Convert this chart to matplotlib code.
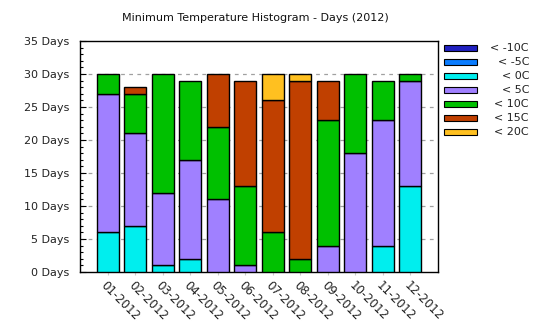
import numpy as np
import matplotlib.pyplot as plt
from matplotlib.patches import Rectangle

months = ['01-2012', '02-2012', '03-2012', '04-2012', '05-2012', '06-2012',
          '07-2012', '08-2012', '09-2012', '10-2012', '11-2012', '12-2012']
bands = ['< -10C', '< -5C', '< 0C', '< 5C', '< 10C', '< 15C', '< 20C']
colors = ['#2020c0', '#0a7cff', '#00eeee', '#a080ff', '#00c000', '#c04000', '#ffc020']

# days per month in each temperature band
below_m10 = [0, 0, 0, 0, 0, 0, 0, 0, 0, 0, 0, 0]
below_m5 = [0, 0, 0, 0, 0, 0, 0, 0, 0, 0, 0, 0]
below_0 = [6, 7, 1, 2, 0, 0, 0, 0, 0, 0, 4, 13]
below_5 = [21, 14, 11, 15, 11, 1, 0, 0, 4, 18, 19, 16]
below_10 = [3, 6, 18, 12, 11, 12, 6, 2, 19, 12, 6, 1]
below_15 = [0, 1, 0, 0, 8, 16, 20, 27, 6, 0, 0, 0]
below_20 = [0, 0, 0, 0, 0, 0, 4, 1, 0, 0, 0, 0]
series = [below_m10, below_m5, below_0, below_5, below_10, below_15, below_20]

fig = plt.figure(figsize=(5.4, 3.3), dpi=100)
ax = fig.add_axes([80 / 540, 58 / 330, 358 / 540, 231 / 330])

x = np.arange(len(months))
bottom = np.zeros(len(months))
for vals, col in zip(series, colors):
    vals = np.array(vals)
    mask = vals > 0
    ax.bar(x[mask], vals[mask], bottom=bottom[mask], width=0.8, color=col,
           edgecolor='black', linewidth=1.0, zorder=3)
    bottom += vals

ax.set_xlim(-1, 12)
ax.set_ylim(0, 35)
ax.set_yticks(range(0, 36, 5))
ax.set_yticklabels([f'{v} Days' for v in range(0, 36, 5)], fontsize=8, color='#222222')
ax.set_yticks(range(0, 36), minor=True)
ax.tick_params(axis='y', which='major', direction='in', length=4, width=0.8, pad=8)
ax.tick_params(axis='y', which='minor', direction='in', length=2.5, width=0.8)
ax.set_xticks(x)
ax.set_xticklabels(months, rotation=-45, ha='left', va='top',
                   rotation_mode='anchor', fontsize=8.5, color='#222222')
ax.tick_params(axis='x', direction='out', length=2, color='#cccccc', pad=3)

for v in range(5, 35, 5):
    ax.axhline(v, color='#a0a0a0', linestyle=(0, (3, 3.5)), linewidth=0.9, zorder=1)

for s in ax.spines.values():
    s.set_linewidth(1.0)

fig.text(255 / 540, 1 - 18 / 330, 'Minimum Temperature Histogram - Days (2012)',
         ha='center', va='center', fontsize=8, color='#111111')

# legend on the right, labels right-aligned
for i, (lab, col) in enumerate(zip(bands, colors)):
    yc = 1 - (48 + 14 * i) / 330
    fig.patches.append(Rectangle((444 / 540, yc - 3 / 330), 33 / 540, 6 / 330,
                                 facecolor=col, edgecolor='black', linewidth=0.8,
                                 transform=fig.transFigure, figure=fig))
    fig.text(529 / 540, yc, lab, ha='right', va='center', fontsize=8, color='#222222')

fig.savefig('out.png', dpi=100)
